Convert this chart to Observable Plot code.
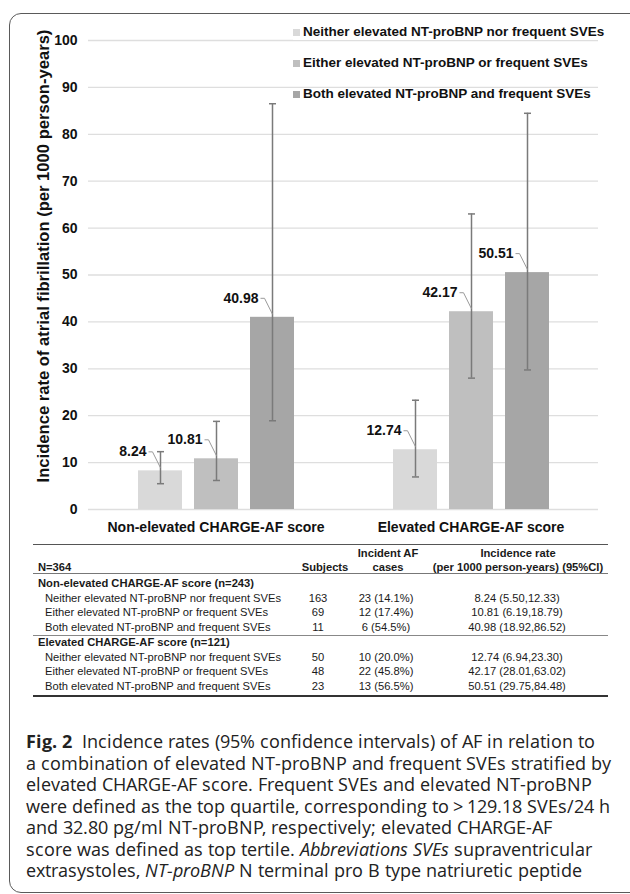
<!DOCTYPE html>
<html>
<head>
<meta charset="utf-8">
<script src="https://cdn.jsdelivr.net/npm/d3@7"></script>
<script src="https://cdn.jsdelivr.net/npm/@observablehq/plot@0.6"></script>
<style>
  @font-face { font-family: "CapSans"; src: local("Open Sans"), local("Open Sans Regular"), local("OpenSans-Regular"); font-weight: 400; font-style: normal; ascent-override: 89%; descent-override: 14%; line-gap-override: 0%; }
  @font-face { font-family: "CapSans"; src: local("Open Sans Bold"), local("OpenSans-Bold"); font-weight: 700; font-style: normal; ascent-override: 89%; descent-override: 14%; line-gap-override: 0%; }
  @font-face { font-family: "CapSans"; src: local("Open Sans Italic"), local("OpenSans-Italic"); font-weight: 400; font-style: italic; ascent-override: 89%; descent-override: 14%; line-gap-override: 0%; }
  html, body { margin: 0; padding: 0; background: #fff; overflow: hidden; }
  #root { position: relative; width: 630px; height: 894px; overflow: hidden; font-family: "Liberation Sans", Arial, sans-serif; color: #111; }
  #frame { position: absolute; left: 9px; top: 13px; width: 650px; height: 880px; border: 1.5px solid #5a5a5a; border-radius: 12px; box-sizing: border-box; }
  #chart { position: absolute; left: 0; top: 0; }
  #legend { position: absolute; left: 293px; top: 0; font-weight: bold; font-size: 13.5px; }
  .lg { position: absolute; left: 0; white-space: nowrap; height: 16px; line-height: 16px; display: flex; align-items: center; }
  .lg.first { background: #fff; width: 305px; }
  .sw { width: 7px; height: 7px; margin-right: 3px; flex: none; }
  #ytitle { position: absolute; left: 44px; top: 256px; transform: translate(-50%, -50%) rotate(-90deg); white-space: nowrap; font-weight: bold; font-size: 16.6px; }
  #table { position: absolute; left: 0; top: 0; width: 630px; height: 720px; font-size: 11.2px; color: #1a1a1a; }
  .cell { position: absolute; white-space: nowrap; height: 14px; line-height: 14px; }
  .rule { position: absolute; left: 33px; width: 575px; }
  #caption { position: absolute; left: 26px; top: 731px; font-family: "CapSans", "Open Sans", "Noto Sans", sans-serif; font-size: 18.4px; line-height: 21.5px; color: #222; }
  #caption div { white-space: nowrap; height: 21.5px; }
</style>
</head>
<body>
<div id="root">
  <div id="frame"></div>
  <div id="chart"></div>
  <div id="legend"></div>
  <div id="ytitle">Incidence rate of atrial fibrillation (per 1000 person-years)</div>
  <div id="table"></div>
  <div id="caption">
    <div><b>Fig. 2</b>&nbsp; Incidence rates (95% confidence intervals) of AF in relation to</div>
    <div>a combination of elevated NT-proBNP and frequent SVEs stratified by</div>
    <div>elevated CHARGE-AF score. Frequent SVEs and elevated NT-proBNP</div>
    <div>were defined as the top quartile, corresponding to&#8201;&gt;&#8201;129.18 SVEs/24 h</div>
    <div>and 32.80 pg/ml NT-proBNP, respectively; elevated CHARGE-AF</div>
    <div>score was defined as top tertile. <i>Abbreviations SVEs</i> supraventricular</div>
    <div>extrasystoles, <i>NT-proBNP</i> N terminal pro B type natriuretic peptide</div>
  </div>
</div>
<script>
// ---------------- data ----------------
const groups = ["Non-elevated CHARGE-AF score", "Elevated CHARGE-AF score"];
const groupN = [243, 121];
const totalN = 364;
const series = [
  "Neither elevated NT-proBNP nor frequent SVEs",
  "Either elevated NT-proBNP or frequent SVEs",
  "Both elevated NT-proBNP and frequent SVEs"
];
const rates  = [8.24, 10.81, 40.98, 12.74, 42.17, 50.51];
const ciLow  = [5.50, 6.19, 18.92, 6.94, 28.01, 29.75];
const ciHigh = [12.33, 18.79, 86.52, 23.30, 63.02, 84.48];
const subjects = [163, 69, 11, 50, 48, 23];
const cases    = [23, 12, 6, 10, 22, 13];
const casePct  = ["14.1", "17.4", "54.5", "20.0", "45.8", "56.5"];
const yTicks = [0, 10, 20, 30, 40, 50, 60, 70, 80, 90, 100];
const barColors = ["#d9d9d9", "#bfbfbf", "#a6a6a6"];

// ---------------- chart ----------------
const rows = [];
groups.forEach((g, gi) => series.forEach((s, si) => {
  const i = gi * series.length + si;
  rows.push({group: g, series: s, rate: rates[i], lo: ciLow[i], hi: ciHigh[i]});
}));

const leaderSymbol = {draw(ctx) { ctx.moveTo(-12, -19); ctx.lineTo(-8, -19); ctx.lineTo(0, -3); }};
const capSymbol = {draw(ctx) { ctx.moveTo(-3.5, 0); ctx.lineTo(3.5, 0); }};
const errColor = "#7a7a7a";

const chart = Plot.plot({
  width: 630,
  height: 545,
  marginLeft: 88,
  marginRight: 32,
  marginTop: 40,
  marginBottom: 36,
  style: {fontFamily: "'Liberation Sans', Arial, sans-serif", fontSize: "14px", fontWeight: "bold", background: "transparent", color: "#111"},
  facet: {data: rows, x: "group"},
  fx: {domain: groups, paddingInner: 0, paddingOuter: 0, axis: "bottom", tickSize: 0, tickPadding: 13, label: null},
  x: {domain: series, paddingInner: 0.22, paddingOuter: 0.87, axis: null},
  y: {domain: [0, 100], ticks: yTicks, tickSize: 0, tickPadding: 11, label: null},
  color: {domain: series, range: barColors},
  marks: [
    Plot.ruleY(yTicks, {stroke: "#dedede", strokeWidth: 1.3}),
    Plot.barY(rows, {x: "series", y: "rate", fill: "series"}),
    Plot.ruleX(rows, {x: "series", y1: "lo", y2: "hi", stroke: errColor, strokeWidth: 1.5}),
    Plot.dot(rows, {x: "series", y: "lo", symbol: capSymbol, stroke: errColor, fill: "none", strokeWidth: 1.5}),
    Plot.dot(rows, {x: "series", y: "hi", symbol: capSymbol, stroke: errColor, fill: "none", strokeWidth: 1.5}),
    Plot.dot(rows, {x: "series", y: "rate", symbol: leaderSymbol, stroke: "#9a9a9a", fill: "none", strokeWidth: 1}),
    Plot.text(rows, {x: "series", y: "rate", text: d => d.rate.toFixed(2), textAnchor: "end", dx: -14, dy: -19, fill: "#111"})
  ]
});
document.getElementById("chart").appendChild(chart);

// ---------------- legend ----------------
const legend = document.getElementById("legend");
const legendCenters = [32, 63, 94];
series.forEach((s, i) => {
  const row = document.createElement("div");
  row.className = "lg" + (i === 0 ? " first" : "");
  row.style.top = (legendCenters[i] - 8) + "px";
  const sw = document.createElement("span");
  sw.className = "sw";
  sw.style.background = barColors[i];
  const tx = document.createElement("span");
  tx.textContent = s;
  row.appendChild(sw); row.appendChild(tx);
  legend.appendChild(row);
});

// ---------------- table ----------------
const table = document.getElementById("table");
const colCenter = [318, 386, 517];
function cell(text, y, opts = {}) {
  const d = document.createElement("div");
  d.className = "cell";
  d.textContent = text;
  d.style.top = (y - 7) + "px";
  if (opts.bold) d.style.fontWeight = "bold";
  if (opts.left != null) d.style.left = opts.left + "px";
  if (opts.center != null) { d.style.left = opts.center + "px"; d.style.transform = "translateX(-50%)"; }
  table.appendChild(d);
}
function rule(y, h, color) {
  const r = document.createElement("div");
  r.className = "rule";
  r.style.top = y + "px"; r.style.height = h + "px"; r.style.background = color;
  table.appendChild(r);
}
rule(543.5, 1.5, "#555");
cell("Incident AF", 553, {bold: true, center: 388});
cell("Incidence rate", 553, {bold: true, center: 518});
cell("N=" + totalN, 567, {bold: true, left: 38});
cell("Subjects", 567, {bold: true, center: 325});
cell("cases", 567, {bold: true, center: 388});
cell("(per 1000 person-years) (95%CI)", 567, {bold: true, center: 518});
rule(573, 1.2, "#777");
const sectionY = [583, 642];
const step = 14.7;
groups.forEach((g, gi) => {
  const y0 = sectionY[gi];
  cell(g + " (n=" + groupN[gi] + ")", y0, {bold: true, left: 38});
  series.forEach((s, si) => {
    const i = gi * series.length + si;
    const y = y0 + step * (si + 1);
    cell(s, y, {left: 45});
    cell(String(subjects[i]), y, {center: colCenter[0]});
    cell(cases[i] + " (" + casePct[i] + "%)", y, {center: colCenter[1]});
    cell(rates[i].toFixed(2) + " (" + ciLow[i].toFixed(2) + "," + ciHigh[i].toFixed(2) + ")", y, {center: colCenter[2]});
  });
  if (gi === 0) rule(634.5, 1.5, "#888");
});
rule(694.5, 2, "#333");
</script>
</body>
</html>
